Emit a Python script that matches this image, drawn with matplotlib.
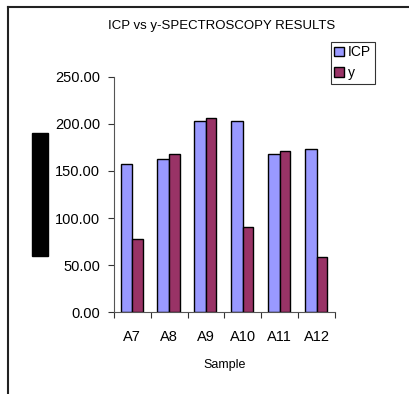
import matplotlib
matplotlib.use("Agg")
import matplotlib.pyplot as plt
import numpy as np
from matplotlib.lines import Line2D
from matplotlib.patches import Rectangle

samples = ["A7", "A8", "A9", "A10", "A11", "A12"]
icp = [157, 163, 203, 203, 168, 173]
gamma = [78, 168, 206, 90, 171, 59]

plt.rcParams["font.family"] = ["Liberation Sans", "DejaVu Sans"]

fig = plt.figure(figsize=(4.09, 3.94), dpi=100)
ax = fig.add_axes([0.2787, 0.2081, 0.5403, 0.5965])

x = np.arange(len(samples))
ax.bar(x - 0.32, icp, width=0.32, align="edge", color="#9999FF", edgecolor="black", linewidth=1, label="ICP")
ax.bar(x, gamma, width=0.28, align="edge", color="#993366", edgecolor="black", linewidth=1, label="y")

ax.set_xlim(-0.5, len(samples) - 0.5)
ax.set_ylim(0, 250)
ax.set_yticks(np.arange(0, 251, 50))
ax.set_yticklabels([f"{v:.2f}" for v in np.arange(0, 251, 50)], fontsize=10.5)
ax.set_xticks(np.arange(-0.5, len(samples), 1.0))
ax.set_xticklabels([])
ax.set_xticks(x, minor=True)
ax.set_xticklabels(samples, minor=True, fontsize=10.5)
ax.tick_params(axis="x", which="minor", length=0, pad=13)
ax.tick_params(axis="x", which="major", length=4, direction="out", color="#333333")
ax.tick_params(axis="y", length=4, direction="out", color="#333333", pad=6)
for s in ["top", "right"]:
    ax.spines[s].set_visible(False)
for s in ["left", "bottom"]:
    ax.spines[s].set_color("#555555")
ax.set_xlabel("Sample", fontsize=9, labelpad=11)

fig.text(0.543, 0.934, "ICP vs y-SPECTROSCOPY RESULTS", ha="center", va="center", fontsize=9.5)

leg = fig.legend(loc="upper left", bbox_to_anchor=(0.809, 0.894), fontsize=10, frameon=True,
                 fancybox=False, edgecolor="black", handlelength=0.7, handleheight=0.7,
                 handletextpad=0.3, borderpad=0.25, labelspacing=0.5, borderaxespad=0)
leg.get_frame().set_linewidth(0.8)

# frame lines of the chart area (cropped)
fig.add_artist(Line2D([0.0185, 1.0], [0.9835, 0.9835], color="#222222", linewidth=1.5))
fig.add_artist(Line2D([0.0185, 0.0185], [0.0, 0.9835], color="#222222", linewidth=1.5))
# redacted y-axis label block
fig.add_artist(Rectangle((0.0782, 0.3503), 0.0391, 0.3122, transform=fig.transFigure,
                         color="black"))

fig.savefig("out.png", dpi=100)
